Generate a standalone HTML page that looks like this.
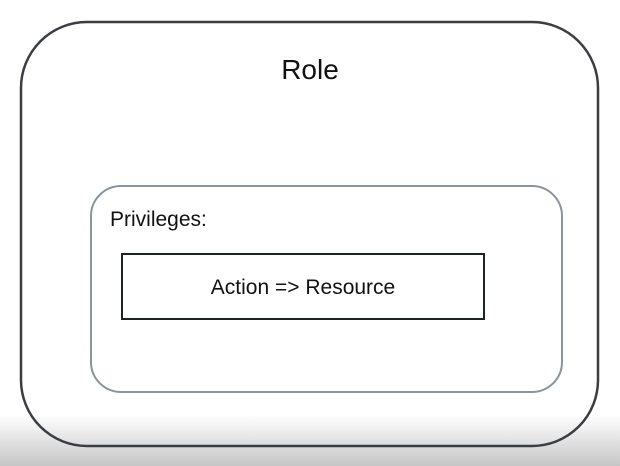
<!DOCTYPE html>
<html><head><style>
body{margin:0;width:620px;height:466px;overflow:hidden;background:linear-gradient(#fff 0,#fff 415px,#c6c6c6 466px);}
svg{position:absolute;left:0;top:0}
</style></head><body>
<svg width="620" height="466" xmlns="http://www.w3.org/2000/svg">
<rect x="21" y="22" width="577" height="424" rx="66" ry="66" fill="none" stroke="#3a3e42" stroke-width="2.5"/>
<rect x="91" y="186" width="471" height="206" rx="30" ry="30" fill="none" stroke="#8a949b" stroke-width="2"/>
<rect x="122" y="254" width="362" height="65" fill="none" stroke="#1e2326" stroke-width="2"/>
<text x="310" y="79" text-anchor="middle" font-family="Liberation Sans, sans-serif" font-size="28" fill="#111">Role</text>
<text x="110" y="226" font-family="Liberation Sans, sans-serif" font-size="21" fill="#111">Privileges:</text>
<text x="303" y="294" text-anchor="middle" font-family="Liberation Sans, sans-serif" font-size="21" fill="#111">Action =&gt; Resource</text>
</svg>
</body></html>
